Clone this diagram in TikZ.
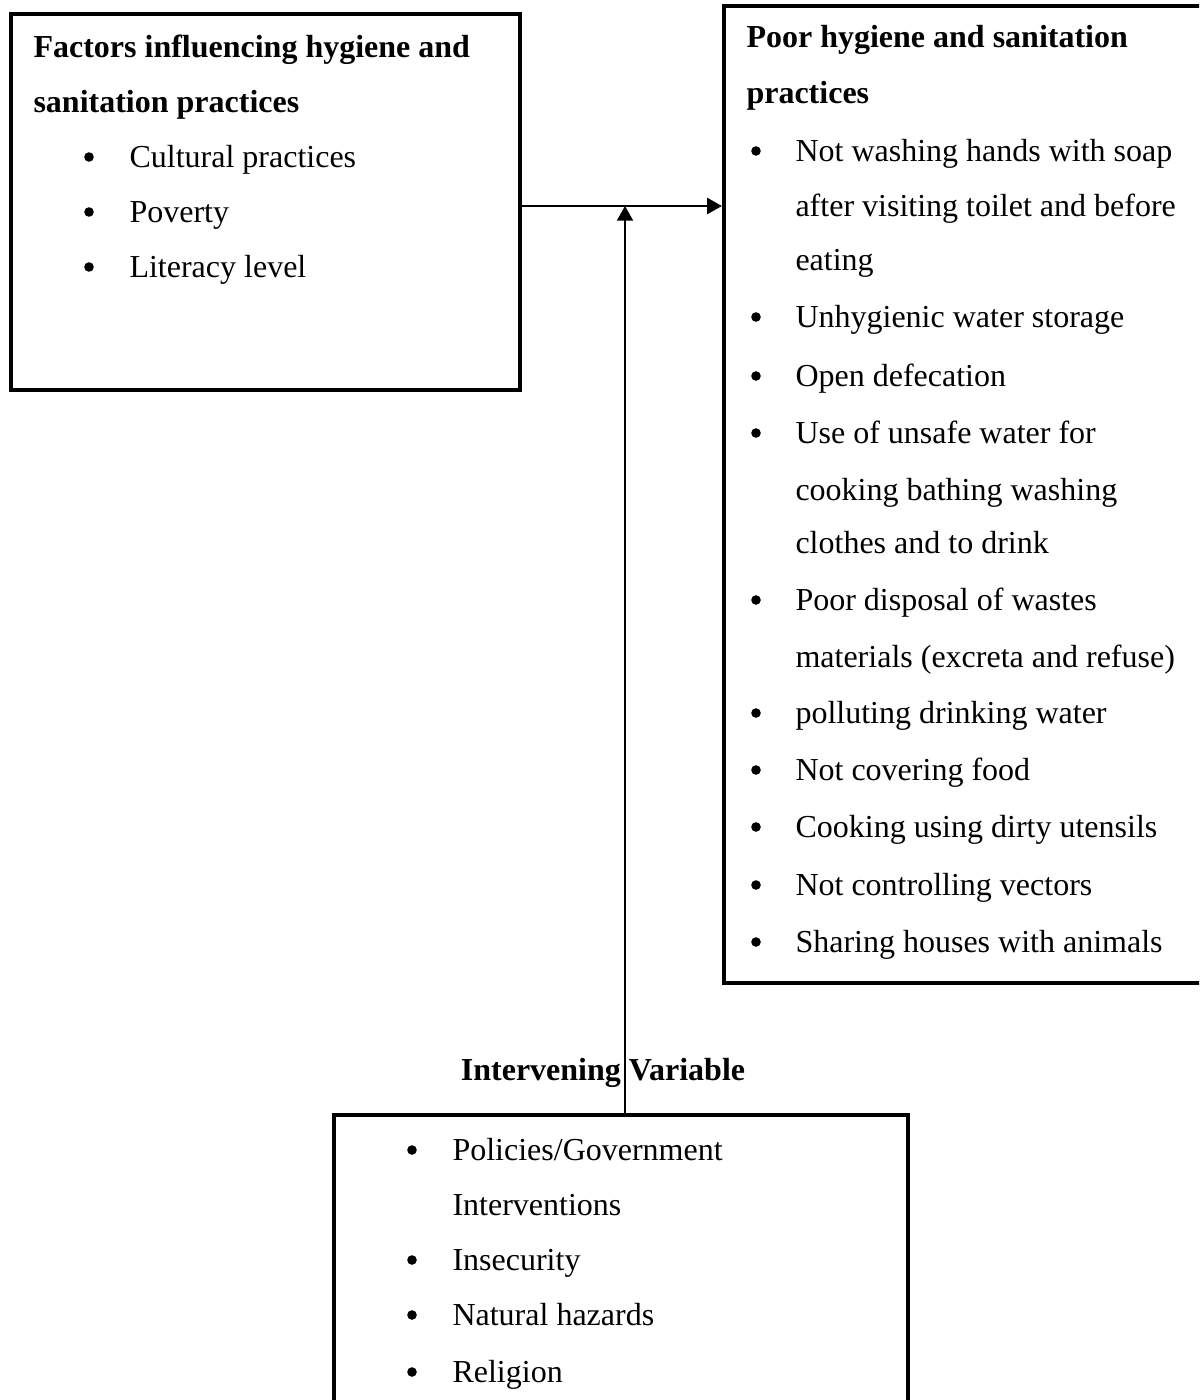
\documentclass[tikz,border=0pt]{standalone}
\usepackage{fontspec}
\setmainfont{Liberation Serif}
\usepackage{tikz}
\usetikzlibrary{arrows.meta}

\begin{document}
\begin{tikzpicture}[x=0.375pt, y=-0.375pt, font=\fontsize{12}{14}\selectfont]

  \tikzset{box node/.style={rectangle,draw,line width=1.6pt,inner sep=0pt}}
  \tikzset{line node/.style={anchor=base west,inner sep=0pt}}
  \tikzset{head node/.style={line node,font=\fontsize{12}{14}\selectfont\bfseries}}
  \tikzset{dot node/.style={circle,fill,inner sep=0pt,minimum size=3.6pt}}
  \tikzset{link/.style={line width=0.75pt,-{Triangle[length=5.5pt,width=6pt]}}}

  \useasboundingbox (0,0) rectangle (1199,1400);
  \clip (0,0) rectangle (1199,1400);

  \path
    (265.5,202) node[box node,minimum width=190.9pt,minimum height=141pt](fac){}
    (969.5,494.5) node[box node,minimum width=184.1pt,minimum height=366.4pt](poor){}
    (621,1267.5) node[box node,minimum width=215.25pt,minimum height=114.4pt](inter){}
    (625,206) coordinate (join)
  ;

  % left box
  \foreach \y/\t [count=\i] in {57/Factors influencing hygiene and, 112/sanitation practices}
    \path (33,\y) node[head node](fh\i){\t};
  \foreach \y/\t [count=\i] in {167/Cultural practices, 222/Poverty, 277/Literacy level}
    \path (89,\y-10) node[dot node](fb\i){}
          (129,\y) node[line node](fi\i){\t};

  % right box
  \foreach \y/\t [count=\i] in {47/Poor hygiene and sanitation, 103/practices}
    \path (746,\y) node[head node](ph\i){\t};
  \foreach \y/\t [count=\i] in {161/Not washing hands with soap,
      216/after visiting toilet and before, 270/eating,
      327/Unhygienic water storage, 386/Open defecation,
      443/Use of unsafe water for, 500/cooking bathing washing,
      553/clothes and to drink, 610/Poor disposal of wastes,
      667/materials (excreta and refuse), 723/polluting drinking water,
      780/Not covering food, 837/Cooking using dirty utensils,
      895/Not controlling vectors, 952/Sharing houses with animals}
    \path (795,\y) node[line node](pi\i){\t};
  \foreach \y [count=\i] in {161,327,386,443,610,723,780,837,895,952}
    \path (756,\y-10) node[dot node](pb\i){};

  % bottom box
  \path (603,1080) node[anchor=base,inner sep=0pt,font=\fontsize{12}{14}\selectfont\bfseries](ivar){Intervening Variable};
  \foreach \y/\t [count=\i] in {1160/{Policies/Government}, 1215/Interventions,
      1270/Insecurity, 1325/Natural hazards, 1382/Religion}
    \path (452,\y) node[line node](ii\i){\t};
  \foreach \y [count=\i] in {1160,1270,1325,1382}
    \path (412,\y-10) node[dot node](ib\i){};

  \draw[link] (fac.east |- join) -- (poor.west |- join);
  \draw[link] (inter.north -| join) -- (join);

\end{tikzpicture}
\end{document}
